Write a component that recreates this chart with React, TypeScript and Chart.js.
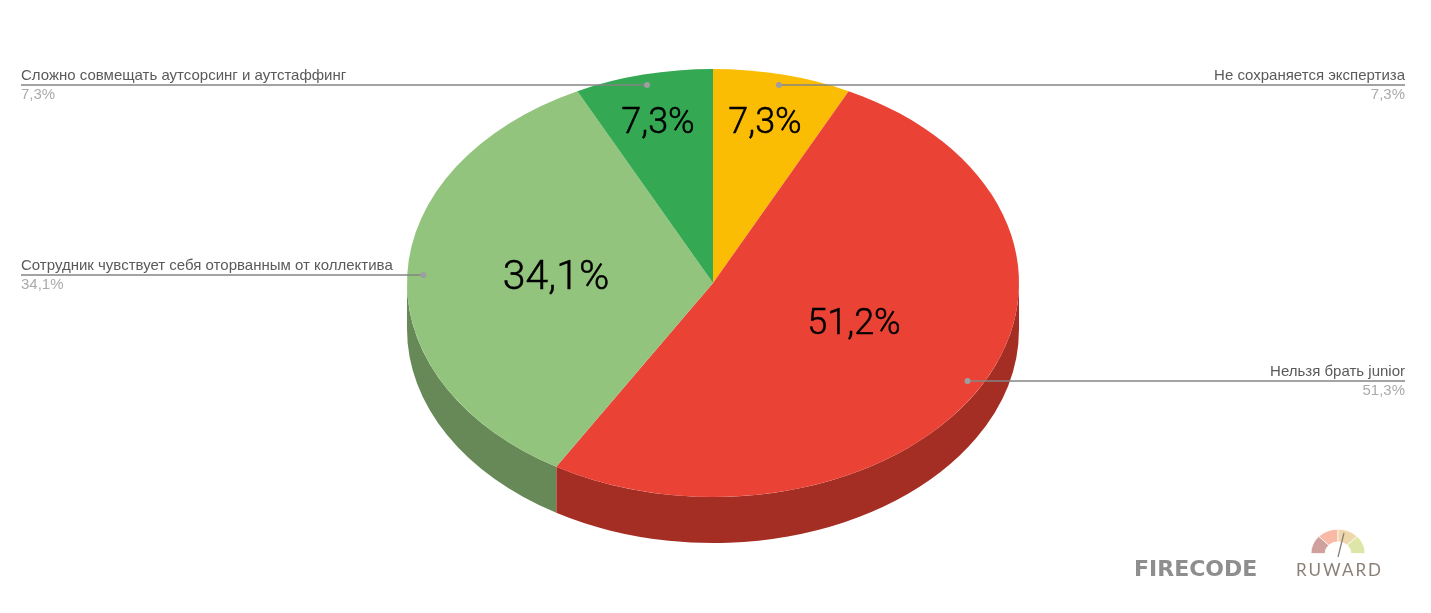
import React, { useEffect, useRef } from "react";
import { Chart, registerables } from "chart.js";

Chart.register(...registerables);

const categories = [
  "Не сохраняется экспертиза",
  "Нельзя брать junior",
  "Сотрудник чувствует себя оторванным от коллектива",
  "Сложно совмещать аутсорсинг и аутстаффинг",
];
const values = [7.3, 51.2, 34.1, 7.3];
const sliceLabels = ["7,3%", "51,2%", "34,1%", "7,3%"];
const outerPercents = ["7,3%", "51,3%", "34,1%", "7,3%"];
const sliceColors = ["#fbbc04", "#ea4335", "#93c47d", "#34a853"];
const sideColors = ["#b08403", "#a52e24", "#678957", "#247540"];

// Layout only
const W = 1431;
const H = 613;
const CY = 283;
const RY = 214;
const DEPTH = 46;
const DOT_FRAC = 0.947;
const FONT = "Roboto, Arial, sans-serif";
const sliceLabelLayout = [
  { x: 765, y: 121, size: 36 },
  { x: 854, y: 322, size: 36 },
  { x: 556, y: 276, size: 41 },
  { x: 658, y: 121, size: 36 },
];
const outerLayout = [
  { side: "right", y: 85 },
  { side: "right", y: 381 },
  { side: "left", y: 275 },
  { side: "left", y: 85 },
];
const LEFT_X = 21;
const RIGHT_X = 1405;

function squash(ctx: CanvasRenderingContext2D, cyFrom: number, ratio: number) {
  ctx.translate(0, CY);
  ctx.scale(1, ratio);
  ctx.translate(0, -cyFrom);
}

const pie3d = {
  id: "pie3d",
  beforeDatasetsDraw(chart: any) {
    const ctx: CanvasRenderingContext2D = chart.ctx;
    const arcs = chart.getDatasetMeta(0).data;
    arcs.forEach((arc: any, i: number) => {
      const p = arc.getProps(["startAngle", "endAngle", "outerRadius", "x"], true);
      const a = Math.max(p.startAngle, 0);
      const b = Math.min(p.endAngle, Math.PI);
      if (b <= a) return;
      ctx.beginPath();
      ctx.ellipse(p.x, CY, p.outerRadius, RY, 0, a, b, false);
      ctx.ellipse(p.x, CY + DEPTH, p.outerRadius, RY, 0, b, a, true);
      ctx.closePath();
      ctx.fillStyle = sideColors[i];
      ctx.fill();
    });
    const first = arcs[0].getProps(["y", "outerRadius"], true);
    ctx.save();
    squash(ctx, first.y, RY / first.outerRadius);
  },
  afterDatasetsDraw(chart: any) {
    chart.ctx.restore();
  },
  afterDraw(chart: any) {
    const ctx: CanvasRenderingContext2D = chart.ctx;
    const arcs = chart.getDatasetMeta(0).data;
    ctx.save();
    // inside labels
    ctx.textAlign = "center";
    ctx.textBaseline = "middle";
    ctx.fillStyle = "#000000";
    ctx.strokeStyle = "#000000";
    ctx.lineWidth = 0.5;
    sliceLabels.forEach((t, i) => {
      const l = sliceLabelLayout[i];
      ctx.font = `300 ${l.size}px ${FONT}`;
      ctx.fillText(t, l.x, l.y + 3);
      ctx.strokeText(t, l.x, l.y + 3);
    });
    // leaders and outer labels
    arcs.forEach((arc: any, i: number) => {
      const p = arc.getProps(["startAngle", "endAngle", "outerRadius", "x"], true);
      const mid = (p.startAngle + p.endAngle) / 2;
      const dx = p.x + Math.cos(mid) * p.outerRadius * DOT_FRAC;
      const l = outerLayout[i];
      const y = l.y;
      const left = l.side === "left";
      ctx.strokeStyle = "#858585";
      ctx.lineWidth = 1.6;
      ctx.beginPath();
      ctx.moveTo(left ? LEFT_X : RIGHT_X, y);
      ctx.lineTo(dx, y);
      ctx.stroke();
      ctx.fillStyle = "#9e9e9e";
      ctx.beginPath();
      ctx.arc(dx, y, 3, 0, Math.PI * 2);
      ctx.fill();
      ctx.textAlign = left ? "left" : "right";
      ctx.textBaseline = "alphabetic";
      ctx.font = `15px "Liberation Sans", Arial, sans-serif`;
      const tx = left ? LEFT_X : RIGHT_X;
      ctx.fillStyle = "#5a5a5a";
      ctx.fillText(categories[i], tx, y - 5);
      ctx.fillStyle = "#ababab";
      ctx.fillText(outerPercents[i], tx, y + 14);
    });

    // logos
    ctx.textAlign = "left";
    ctx.textBaseline = "alphabetic";
    ctx.fillStyle = "#8e8e8e";
    ctx.font = `bold 22px "DejaVu Sans", sans-serif`;
    ctx.fillText("FIRECODE", 1134, 576);
    ctx.fillStyle = "#8a8078";
    ctx.font = `400 17px Lato, ${FONT}`;
    (ctx as any).letterSpacing = "2px";
    ctx.fillText("RUWARD", 1296, 576);
    (ctx as any).letterSpacing = "0px";

    const gx = 1338, gy = 553.5;
    const gauge = ["#cfa09c", "#f9b9a6", "#efd7ac", "#dde6a6"];
    ctx.save();
    ctx.translate(gx, gy);
    ctx.scale(1, 0.9);
    gauge.forEach((c, i) => {
      const a = Math.PI + (i * Math.PI) / 4;
      const b = a + Math.PI / 4;
      ctx.beginPath();
      ctx.arc(0, 0, 27, a, b, false);
      ctx.arc(0, 0, 13, b, a, true);
      ctx.closePath();
      ctx.fillStyle = c;
      ctx.fill();
      ctx.strokeStyle = "#ffffff";
      ctx.lineWidth = 0.8;
      ctx.stroke();
    });
    ctx.restore();
    ctx.strokeStyle = "#8a8078";
    ctx.lineWidth = 1.3;
    ctx.beginPath();
    ctx.moveTo(1338, 557);
    ctx.lineTo(1344, 533);
    ctx.stroke();
    ctx.restore();
  },
};

export default function App() {
  const ref = useRef<HTMLCanvasElement>(null);
  useEffect(() => {
    document.body.style.margin = "0";
    document.body.style.background = "#ffffff";
    const chart = new Chart(ref.current!, {
      type: "pie",
      data: {
        labels: categories,
        datasets: [{ data: values, backgroundColor: sliceColors, borderWidth: 0 }],
      },
      options: {
        responsive: false,
        animation: false,
        layout: { padding: { left: 0, right: 5, top: 0, bottom: 1 } },
        plugins: { legend: { display: false }, tooltip: { enabled: false } },
      },
      plugins: [pie3d],
    } as any);
    return () => chart.destroy();
  }, []);
  return <canvas ref={ref} width={W} height={H} style={{ display: "block" }} />;
}
